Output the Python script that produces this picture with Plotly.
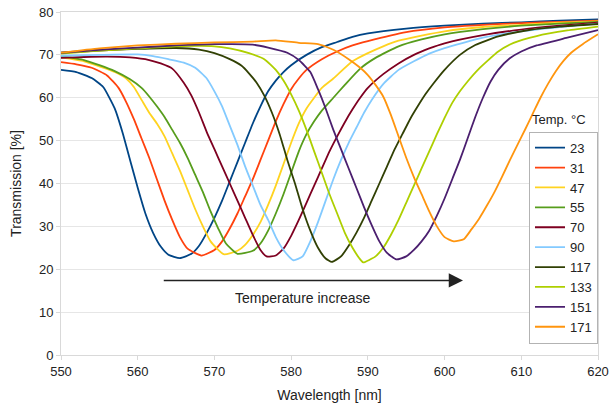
import plotly.graph_objects as go

# transmission spectra, one pair of lists per temperature
temps = ["23", "31", "47", "55", "70", "90", "117", "133", "151", "171"]
colors = ["#004586", "#ff420e", "#ffd320", "#579d1c", "#7e0021",
          "#83caff", "#314004", "#aecf00", "#4b1f6f", "#ff950e"]

wl_23 = [550, 552, 554, 555.5, 557, 558, 559, 560, 561, 562, 563, 564, 565.5, 567, 568, 569, 570, 571, 572, 573,
         574, 575, 576, 577, 578, 579, 580, 582, 584, 586, 588, 590, 595, 600, 605, 610, 615, 620]
tr_23 = [66.5, 66.0, 64.6, 62.5, 57.5, 52, 45.5, 39, 33, 28.5, 25.3, 23.4, 22.6, 23.6, 25.5, 28.5, 32, 36, 40.5, 45,
         49.5, 54, 58, 61.5, 64, 66, 67.6, 70, 71.8, 73, 74.2, 75, 76.1, 76.8, 77.3, 77.6, 78, 78.3]

wl_31 = [550, 552, 554, 556, 557.5, 558.5, 559.5, 560.5, 561.5, 562.5, 563.5, 564.5, 565.5, 566.5, 568.3, 570, 571, 572,
         573, 574, 575, 576, 577, 578, 579, 580, 581, 582, 584, 586, 588, 590, 595, 600, 605, 610, 615, 620]
tr_31 = [68.3, 67.8, 67.0, 65.2, 62.3, 59, 55, 50.5, 46, 41, 36, 31.5, 27.5, 24.8, 23.2, 24.5, 26.5, 29.5,
         33, 37, 41, 45.5, 50, 54.5, 58.5, 62, 64.5, 66.5, 69, 70.8, 72.2, 73.2, 75.3, 76.4, 77, 77.4, 77.7, 78]

wl_47 = [550, 553, 555, 557, 558.5, 559.5, 560.5, 561.5, 562.5, 563.5, 564.5, 565.5, 566.5, 567.5, 568.5, 569.5, 571.2,
         573, 574, 575, 576, 577, 578, 579, 580, 581, 582, 583, 584, 585.5, 588, 590, 592, 594, 597, 600, 605, 610,
         615, 620]
tr_47 = [69.4, 68.5, 67.3, 66, 64.5, 62.5, 59.5, 56.5, 54, 51, 47, 43, 38.5, 34, 30, 26.5, 23.5,
         24.3, 25.7, 28, 31, 35, 39.5, 44.5, 49.5, 54, 57.5, 60, 62.3, 64.5, 68.5, 70.4, 72, 73.3, 74.5, 75.5, 76.5,
         77, 77.5, 77.8]

wl_55 = [550, 553, 555, 557, 559, 560.5, 561.5, 562.5, 563.5, 564.5, 565.5, 566.5, 567.5, 568.5, 569.5, 570.5, 571.5,
         573, 575, 576, 577, 578, 579, 580, 581, 582, 583, 584, 585.5, 587, 589, 591, 594, 597, 600, 605, 610, 615, 620]
tr_55 = [69.7, 68.8, 67.6, 66.2, 64.3, 62.3, 60.3, 58, 55.5, 52.5, 49.5, 46, 42, 38, 33.5, 29.5, 26,
         23.6, 24.3, 26, 29, 33, 37.5, 42.5, 47.5, 51.5, 54.5, 57, 60, 63, 66.8, 69.3, 72, 73.6, 74.8, 76, 76.8,
         77.3, 77.7]

wl_70 = [550, 553, 556, 559, 561.5, 563, 564.5, 566, 567, 568, 569, 570, 571, 572, 573, 574, 575, 576, 576.8,
         578, 579, 580, 581, 582, 583, 584, 585, 586, 587, 588, 589, 590, 592, 594, 596, 598, 600, 605, 610, 615, 620]
tr_70 = [69.3, 69.5, 69.6, 69.4, 68.8, 68, 66.8, 63.5, 60.5, 56.5, 52, 48, 44, 40, 36, 32, 28, 24.5, 23,
         23.2, 24.8, 27.8, 31.5, 35.5, 39.5, 43.5, 47.5, 51, 54.3, 57.3, 60, 62.3, 65.5, 68, 70, 71.5, 72.7, 74.6,
         75.9, 76.8, 77.5]

wl_90 = [550, 555, 560, 562, 564, 566, 567.5, 569, 570, 571, 572, 573, 574, 575, 576, 577, 578, 579, 580.3,
         581.5, 582.5, 583.5, 584.5, 585.5, 586.5, 587.5, 588.5, 589.5, 590.5, 592, 594, 596, 598, 600, 605, 610,
         615, 620]
tr_90 = [69.8, 70, 70.1, 69.7, 69, 68.2, 67, 64.5, 61.5, 58, 53.5, 49, 44, 39.5, 35, 31.5, 27.5, 24.5, 22.1,
         23, 26.5, 31, 36, 41, 45.5, 49.5, 53, 56.5, 59.5, 63.2, 66.5, 68.5, 70.3, 71.6, 74, 75.5, 76.5, 77.3]

wl_117 = [550, 555, 560, 565, 568, 570, 572, 573.5, 574.5, 575.5, 576.5, 577.5, 578.5, 579.5, 580.5, 581.5, 582.5,
          583.5, 584.5, 585.3, 586.5, 587.5, 588.5, 589.5, 590.5, 591.5, 592.5, 593.5, 594.5, 595.5, 596.5, 597.5,
          598.5, 600, 602, 604, 607, 611, 615, 620]
tr_117 = [70.5, 71, 71.4, 71.6, 71.2, 70.4, 69, 67.5, 65.7, 63.5, 60.5, 56.5, 51.5, 45.5, 40, 34, 29,
          25, 22.5, 21.7, 23, 25.5, 28.5, 32, 36, 40, 44, 48, 51.5, 55, 58, 60.8,
          63.2, 66.5, 70, 72.3, 74.3, 75.8, 76.6, 77.2]

wl_133 = [550, 555, 560, 565, 570, 572, 574.5, 576.5, 578, 579, 580, 581, 582, 583, 584, 585, 586, 587, 588, 589,
          589.4, 591, 592, 593, 594, 595, 596, 597, 598, 599, 600, 601, 602, 603, 604.5, 607, 609, 612, 616, 620]
tr_133 = [70.3, 71, 71.5, 72, 72, 71.5, 70.4, 69, 66.5, 64, 60.8, 57, 52.5, 47.5, 42.5, 37.5, 33, 28.5, 25, 22.3,
          21.6, 23, 25, 28, 31.5, 35.5, 39.5, 43.5, 47.5, 51.5, 55.3, 58.8, 61.5, 63.8, 66.8, 70.8, 72.8, 74.4,
          75.7, 76.6]

wl_151 = [550, 555, 560, 565, 570, 575, 577, 579.5, 581, 582.5, 583.5, 584.5, 585.5, 586.5, 587.5, 588.5, 589.5,
          590.5, 591.5, 592.5, 593.7, 595, 596, 597, 598, 599, 600, 601, 602, 603, 604, 605, 606, 607, 608.5, 610,
          612, 616, 620]
tr_151 = [70.5, 71.2, 71.7, 72.2, 72.5, 72.4, 71.7, 70.5, 68.8, 66, 62, 57.5, 52.5, 48, 43.5, 39, 34.5,
          30.3, 26.5, 23.8, 22.3, 23, 24.5, 26.5, 29, 32.5, 36.5, 41, 45.5, 50.5, 55.5, 60, 63.8, 66.5, 69.2, 70.8,
          72.2, 74, 75.8]

wl_171 = [550, 555, 560, 565, 570, 575, 578, 581, 583.5, 585.5, 587.5, 589, 590, 591, 592, 593, 594, 595, 596, 597,
          598, 599, 600, 601.2, 602.5, 603.5, 604.5, 605.5, 606.5, 607.5, 608.5, 609.5, 610.5, 611.5, 612.5, 613.5,
          614.5, 615.5, 616.5, 618, 620]
tr_171 = [70.5, 71.5, 72.2, 72.6, 72.9, 73.1, 73.4, 72.8, 72.5, 71.2, 69, 67, 65.3, 63, 60.3, 56, 51, 46, 41.5, 37.5,
          33.5, 30, 27.5, 26.5, 27, 29.3, 31.8, 34.8, 38, 41.6, 45.4, 49, 52.6, 56.3, 60, 63.3,
          66.2, 68.6, 70.5, 72.5, 74.8]

wls = [wl_23, wl_31, wl_47, wl_55, wl_70, wl_90, wl_117, wl_133, wl_151, wl_171]
trs = [tr_23, tr_31, tr_47, tr_55, tr_70, tr_90, tr_117, tr_133, tr_151, tr_171]

fig = go.Figure()
for name, col, x, y in zip(temps, colors, wls, trs):
    fig.add_trace(go.Scatter(x=x, y=y, mode="lines", name=name,
                             line=dict(color=col, width=1.8, shape="spline", smoothing=0.5)))

# arrow + label
fig.add_annotation(x=602.4, y=17.4, ax=563.2, ay=17.4, xref="x", yref="y", axref="x", ayref="y",
                   text="", showarrow=True, arrowhead=2, arrowsize=1.9, arrowwidth=1.5, arrowcolor="#222")
fig.add_annotation(x=581.5, y=13.3, xref="x", yref="y", text="Temperature increase", showarrow=False,
                   font=dict(size=14, color="#222"))
# legend title sits above the box
fig.add_annotation(x=0.927, y=0.658, xref="paper", yref="paper", text="Temp. °C", showarrow=False,
                   xanchor="center", yanchor="bottom", font=dict(size=13, color="#222"))

fig.update_layout(
    width=611, height=407,
    margin=dict(l=61, r=13, t=12, b=52),
    paper_bgcolor="white", plot_bgcolor="white",
    font=dict(family="Liberation Sans, Arial, sans-serif", size=13, color="#222"),
    legend=dict(x=0.8715, y=0.651, xanchor="left", yanchor="top", bgcolor="white",
                bordercolor="#b3b3b3", borderwidth=1, font=dict(size=13), itemwidth=30),
    showlegend=True,
)
fig.update_xaxes(range=[550, 620], dtick=10, showgrid=False, showline=True, linecolor="#d9d9d9", mirror=True,
                 ticks="outside", ticklen=4, tickcolor="#d9d9d9", automargin=False,
                 title=dict(text="Wavelength [nm]", font=dict(size=14), standoff=12),
                 zeroline=False)
fig.update_yaxes(range=[0, 80], dtick=10, showgrid=True, gridcolor="#e6e6e6", showline=True, linecolor="#d9d9d9",
                 mirror=True, ticks="outside", ticklen=4, tickcolor="#d9d9d9", automargin=False,
                 title=dict(text="Transmission [%]", font=dict(size=14), standoff=14), zeroline=False)

fig.write_html("out.html", config={"displayModeBar": False},
               post_script="document.body.style.margin='0';")
